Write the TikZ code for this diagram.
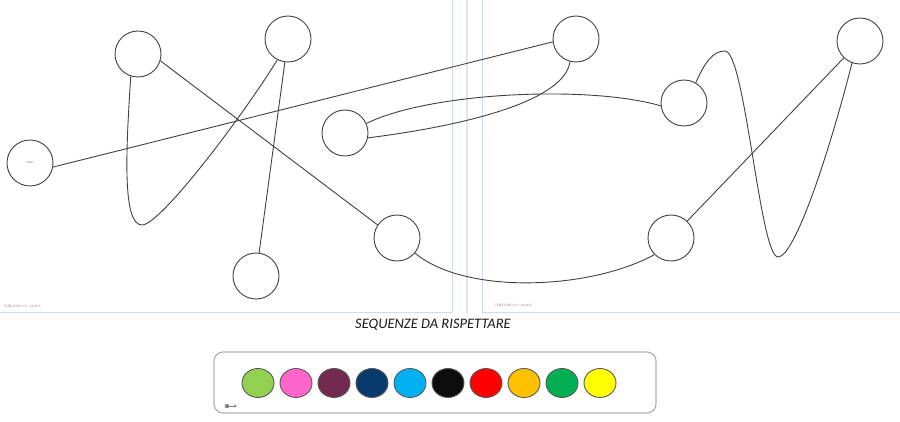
\documentclass[tikz,border=0pt]{standalone}
\usepackage{fontspec}
\setmainfont{Carlito}
\usepackage{xcolor}
\usetikzlibrary{arrows.meta, shapes.geometric}

\definecolor{verdino}{HTML}{92D050}
\definecolor{rosa}{HTML}{FF66CC}
\definecolor{prugna}{HTML}{722A4E}
\definecolor{blunotte}{HTML}{083B6C}
\definecolor{azzurro}{HTML}{00B0F0}
\definecolor{nero}{HTML}{0D0D0D}
\definecolor{rosso}{HTML}{FF0000}
\definecolor{arancio}{HTML}{FFC000}
\definecolor{verde}{HTML}{00B050}
\definecolor{giallo}{HTML}{FFFF00}
\definecolor{guida}{HTML}{C6DEF7}

\tikzset{
  tappa/.style={circle, draw=black!75, line width=0.9pt, minimum size=46pt, inner sep=0pt},
  filo/.style={draw=black!75, line width=0.9pt},
  foglio/.style={draw=guida, line width=1pt},
  pagina/.style={font=\fontsize{3.6}{4}\selectfont, text=gray!80, inner sep=0pt},
  colore/.style={ellipse, draw=black!65, line width=0.9pt, minimum width=32pt, minimum height=29pt, inner sep=0pt}
}

\begin{document}
\begin{tikzpicture}[x=1pt,y=-1pt]
  \useasboundingbox (0,0) rectangle (900,422);
  % the two sheets, A left and B right
  \draw[foglio] (0,312) -- (452,312) -- (452,0);
  \draw[foglio] (900,312) -- (482,312) -- (482,0);
  \draw[gray!20, line width=1.5pt] (467,0) -- (467,313);
  \node[pagina, anchor=west] (pagA) at (4,307) {TABELLONE n°4—parte A};
  \node[pagina, anchor=west] (pagB) at (495,306) {TABELLONE n°4—parte B};
  % stops, numbered in the order of the path
  \node[tappa] (start) at (30,163) {\fontsize{3}{3}\selectfont\color{gray}START};
  \node[tappa] (t1) at (576,39) {};
  \node[tappa] (t2) at (345,133) {};
  \node[tappa] (t3) at (684,103) {};
  \node[tappa] (t4) at (860,41) {};
  \node[tappa] (t5) at (671,238) {};
  \node[tappa] (t6) at (397,238) {};
  \node[tappa] (t7) at (138,54) {};
  \node[tappa] (t8) at (288,39) {};
  \node[tappa] (t9) at (256,276) {};
  % turning points of the loops
  \coordinate (cima) at (725,51);
  \coordinate (fondo) at (778,257);
  \coordinate (ansa) at (142,225);
  % the path
  \draw[filo] (start.-10) -- (t1.187);
  \draw[filo] (t1.-105) .. controls (565,100) and (470,125) .. (t2.-12);
  \draw[filo] (t2.24) .. controls (430,92) and (590,85) .. (t3.187);
  \draw[filo] (t3.60) .. controls (705,62) and (713,51) .. (cima)
    .. controls (745,51) and (760,257) .. (fondo)
    .. controls (795,257) and (830,150) .. (t4.-110);
  \draw[filo] (t4) -- (t5);
  \draw[filo] (t5.-135) .. controls (590,290) and (465,295) .. (t6.-40);
  \draw[filo] (t6.146) -- (t7.-17);
  \draw[filo] (t7.-108) .. controls (126,150) and (122,225) .. (ansa)
    .. controls (160,225) and (240,120) .. (t8.-117);
  \draw[filo] (t8) -- (t9);
  % title
  \node[font=\itshape\fontsize{14.5}{14.5}\selectfont, text=black!90] (titolo) at (433,325) {SEQUENZE DA RISPETTARE};
  % palette
  \draw[gray!60, line width=1.2pt, rounded corners=9pt] (214,352) rectangle (656,413);
  \foreach \c [count=\i from 0] in {verdino,rosa,prugna,blunotte,azzurro,nero,rosso,arancio,verde,giallo} {
    \node[colore, fill=\c] (col\i) at ({258+38*\i},383) {};
  }
  \filldraw[gray] (227,406) circle (2pt);
  \draw[gray, line width=0.8pt, -{Stealth[length=3pt,width=3pt]}] (229,406) -- (237,406);
\end{tikzpicture}
\end{document}
